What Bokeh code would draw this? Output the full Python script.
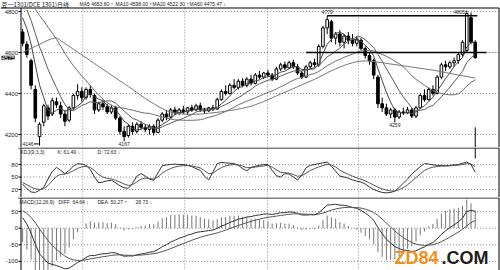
import numpy as np
from bokeh.plotting import figure
from bokeh.layouts import column
from bokeh.models import ColumnDataSource, Range1d, Label
from bokeh.embed import file_html
from bokeh.resources import INLINE

# ---------------- data ----------------
opens = [4700, 4640, 4560, 4420, 4190, 4260, 4330, 4300, 4360, 4340,
         4300, 4270, 4330, 4390, 4410, 4380, 4420, 4390, 4320, 4350,
         4335, 4310, 4330, 4280, 4215, 4195, 4240, 4215, 4250, 4235,
         4225, 4240, 4210, 4270, 4300, 4285, 4320, 4305, 4320, 4310,
         4330, 4320, 4340, 4320, 4315, 4330, 4325, 4370, 4410, 4400,
         4440, 4430, 4460, 4440, 4470, 4450, 4490, 4480, 4500, 4490,
         4470, 4520, 4540, 4525, 4550, 4530, 4500, 4480, 4530, 4550,
         4540, 4630, 4720, 4750, 4670, 4690, 4650, 4680, 4660, 4645,
         4660, 4620, 4585, 4560, 4480, 4350, 4330, 4300, 4320, 4285,
         4310, 4305, 4320, 4290, 4330, 4390, 4370, 4420, 4400, 4480,
         4540, 4530, 4550, 4560, 4590, 4610, 4770, 4650]
highs = [4715, 4655, 4570, 4440, 4260, 4350, 4345, 4380, 4380, 4360,
         4320, 4340, 4400, 4445, 4430, 4430, 4440, 4400, 4360, 4370,
         4350, 4345, 4340, 4290, 4240, 4250, 4260, 4260, 4265, 4250,
         4250, 4250, 4280, 4310, 4320, 4330, 4335, 4330, 4340, 4335,
         4345, 4350, 4355, 4330, 4335, 4345, 4380, 4420, 4440, 4450,
         4470, 4470, 4475, 4480, 4490, 4500, 4510, 4505, 4515, 4500,
         4530, 4550, 4555, 4560, 4565, 4545, 4510, 4540, 4560, 4570,
         4640, 4730, 4779, 4760, 4700, 4710, 4690, 4700, 4690, 4680,
         4670, 4630, 4600, 4570, 4490, 4380, 4350, 4330, 4330, 4320,
         4330, 4335, 4330, 4340, 4400, 4420, 4430, 4440, 4490, 4550,
         4560, 4560, 4575, 4600, 4660, 4805, 4795, 4660]
lows = [4630, 4575, 4420, 4260, 4146, 4240, 4270, 4290, 4330, 4280,
        4240, 4260, 4320, 4370, 4360, 4370, 4380, 4300, 4310, 4320,
        4300, 4300, 4270, 4200, 4167, 4185, 4200, 4205, 4225, 4210,
        4200, 4195, 4205, 4260, 4270, 4280, 4295, 4295, 4300, 4295,
        4310, 4315, 4310, 4300, 4310, 4315, 4320, 4365, 4390, 4395,
        4420, 4420, 4430, 4430, 4440, 4445, 4470, 4470, 4480, 4460,
        4465, 4510, 4515, 4520, 4520, 4490, 4470, 4475, 4520, 4530,
        4530, 4620, 4690, 4650, 4640, 4630, 4620, 4640, 4630, 4630,
        4610, 4570, 4540, 4470, 4330, 4310, 4290, 4280, 4259, 4275,
        4295, 4300, 4280, 4280, 4325, 4360, 4365, 4390, 4395, 4470,
        4510, 4520, 4530, 4545, 4580, 4600, 4640, 4570]
closes = [4645, 4590, 4440, 4280, 4250, 4340, 4290, 4365, 4345, 4300,
          4265, 4330, 4390, 4410, 4380, 4420, 4395, 4320, 4350, 4335,
          4310, 4330, 4280, 4215, 4190, 4240, 4215, 4250, 4235, 4225,
          4240, 4210, 4270, 4300, 4285, 4320, 4305, 4320, 4310, 4330,
          4320, 4340, 4320, 4315, 4330, 4325, 4370, 4410, 4400, 4440,
          4430, 4460, 4440, 4470, 4450, 4490, 4480, 4500, 4490, 4470,
          4520, 4540, 4525, 4550, 4530, 4500, 4480, 4530, 4550, 4540,
          4630, 4720, 4760, 4670, 4690, 4650, 4680, 4660, 4645, 4665,
          4620, 4585, 4560, 4490, 4350, 4330, 4300, 4320, 4285, 4310,
          4305, 4320, 4290, 4330, 4390, 4370, 4420, 4400, 4480, 4540,
          4530, 4550, 4560, 4590, 4650, 4790, 4650, 4575]
# closes before the first visible bar (for the moving averages)
prior_closes = [4760, 4790, 4820, 4850, 4880, 4900, 4930, 4950, 4970, 4960,
                4980, 4950, 4920, 4900, 4870, 4850, 4820, 4790, 4740]
ma60 = [4600, 4610, 4620, 4630, 4640, 4650, 4660, 4668, 4672, 4658,
        4644, 4630, 4616, 4602, 4588, 4574, 4560, 4546, 4532, 4518,
        4504, 4490, 4476, 4462, 4448, 4434, 4420, 4405, 4390, 4376,
        4362, 4350, 4338, 4326, 4316, 4310, 4305, 4302, 4300, 4299,
        4298, 4299, 4300, 4302, 4304, 4306, 4308, 4311, 4314, 4317,
        4320, 4324, 4328, 4333, 4338, 4345, 4353, 4361, 4370, 4379,
        4388, 4397, 4406, 4415, 4424, 4433, 4442, 4451, 4460, 4469,
        4479, 4490, 4501, 4511, 4520, 4529, 4537, 4544, 4550, 4555,
        4558, 4559, 4558, 4556, 4553, 4550, 4547, 4544, 4541, 4538,
        4535, 4532, 4529, 4526, 4523, 4520, 4517, 4514, 4510, 4506,
        4502, 4498, 4494, 4490, 4486, 4483, 4479, 4475]
kdj_k = [33, 22, 14, 13, 18, 25, 45, 63, 73, 66,
         58, 66, 76, 82, 81, 78, 68, 50, 36, 38,
         41, 42, 36, 29, 24, 23, 35, 52, 58, 52,
         45, 42, 60, 77, 79, 80, 81, 80, 80, 78,
         75, 70, 66, 52, 43, 62, 82, 85, 84, 83,
         82, 78, 70, 65, 73, 76, 78, 80, 80, 66,
         53, 50, 58, 57, 50, 43, 55, 72, 78, 80,
         82, 84, 86, 76, 64, 52, 50, 47, 43, 40,
         38, 33, 26, 20, 16, 13, 12, 13, 16, 25,
         35, 45, 57, 66, 75, 82, 81, 79, 78, 78,
         77, 78, 79, 80, 83, 86, 80, 61.49]
d_start = 38.0
macd_init = [4830.0, 4780.0, 58.0]  # EMA12, EMA26, DEA carried in

price_ticks = [4200, 4400, 4600, 4800]
kdj_ticks = [20, 50, 80]
macd_ticks = [-100, -50, 0, 50]
month_breaks = [14.2, 38.3, 57.9, 79.4]

chart_title = "豆一1301(DCE 1301)日线"
ma_labels = ["MA5 4653.80 ↑", "MA10 4598.00 ↑", "MA20 4522.30 ↑", "MA60 4475.47 ↓"]
kdj_labels = ["KDJ(9,3,3)", "K: 61.49 ↓", "D: 72.63 ↓"]
macd_labels = ["MACD(12,26,9)", "DIFF: 64.64 ↓", "DEA: 50.27 ↑", "28.73 ↓"]
support_level = 4600
support_start = 67
watermark = ["ZD84", ".COM"]

# ---------------- derived series ----------------
o = np.array(opens, float); h = np.array(highs, float)
l = np.array(lows, float); c = np.array(closes, float)
n = len(c)
idx = np.arange(n)
allc = np.array(prior_closes + closes, float)
off = len(prior_closes)

def sma(k):
    return np.array([allc[off + i - k + 1: off + i + 1].mean() for i in range(n)])

ma5, ma10, ma20 = sma(5), sma(10), sma(20)

D = []
d = d_start
for kv in kdj_k:
    d = 2 / 3 * d + kv / 3
    D.append(d)

DIFF = []; DEA = []; HIST = []
e12, e26, dea = macd_init
for ci in c:
    e12 = e12 * 11 / 13 + ci * 2 / 13
    e26 = e26 * 25 / 27 + ci * 2 / 27
    diff = e12 - e26
    dea = dea * 0.8 + diff * 0.2
    DIFF.append(diff); DEA.append(dea); HIST.append(2 * (diff - dea))

# ---------------- layout helpers ----------------
FONT = "Liberation Sans"
S = 478 / 113.0                 # pixels per bar
X0 = -0.5 - 20 / S
X1 = X0 + 500 / S
def xpx(px):
    return X0 + px / S

def panel(height, ybot, ytop, ticks, top_px=0.5, sep_from=18):
    p = figure(width=500, height=height, x_range=Range1d(X0, X1), y_range=Range1d(ybot, ytop),
               output_backend="svg", toolbar_location=None,
               x_axis_location=None, y_axis_location=None,
               min_border_left=0, min_border_right=0, min_border_top=0, min_border_bottom=0)
    p.outline_line_color = None
    p.background_fill_color = "white"
    p.border_fill_color = "white"
    p.xgrid.visible = False
    p.ygrid.visible = False
    def ypx(py):
        return ytop - py * (ytop - ybot) / height
    ytop_line = ypx(top_px)
    # dotted grid
    p.segment(x0=[xpx(20.5)] * len(ticks), y0=ticks, x1=[xpx(498)] * len(ticks), y1=ticks,
              line_color="#8a8a8a", line_dash="1 2", line_width=1)
    p.segment(x0=month_breaks, y0=[ybot] * len(month_breaks), x1=month_breaks,
              y1=[ytop_line] * len(month_breaks), line_color="#8a8a8a", line_dash="1 2", line_width=1)
    # frame lines: left axis, right border, top separator
    p.segment(x0=[xpx(20.5), xpx(498.5), xpx(sep_from)], y0=[ybot, ybot, ytop_line],
              x1=[xpx(20.5), xpx(498.5), xpx(498.5)], y1=[ytop_line, ytop_line, ytop_line],
              line_color="black", line_width=1)
    # ticks and tick labels
    p.segment(x0=[xpx(18)] * len(ticks), y0=ticks, x1=[xpx(20.5)] * len(ticks), y1=ticks,
              line_color="black", line_width=1)
    for t in ticks:
        p.add_layout(Label(x=xpx(17.5), y=t, text=str(t), text_align="right",
                           text_baseline="middle", text_font=FONT, text_font_size="6px",
                           text_color="#222"))
    return p, ypx

def lab(p, x, y, text, size="5px", color="#222", font=FONT, align="left",
        baseline="middle", **kw):
    p.add_layout(Label(x=x, y=y, text=text, text_font=font, text_font_size=size,
                       text_color=color, text_align=align, text_baseline=baseline, **kw))

# ---------------- price panel ----------------
P1_TOP = 4800 + 11 / 0.205
P1_BOT = 4800 - 136 / 0.205
p1, y1px = panel(147, P1_BOT, P1_TOP, price_ticks, top_px=7.5, sep_from=0)
up = c >= o
src = ColumnDataSource(dict(x=idx, o=o, h=h, l=l, c=c,
                            top=np.maximum(o, c), bot=np.minimum(o, c),
                            fill=np.where(up, "white", "black")))
p1.segment(x0="x", y0="l", x1="x", y1="h", source=src, line_color="black", line_width=1)
p1.vbar(x="x", top="top", bottom="bot", width=0.62, source=src,
        fill_color="fill", line_color="black", line_width=1)
ma_top = y1px(7.5)
for ser, col in ((ma5, "#444"), (ma10, "#5a5a5a"), (ma20, "#6e6e6e"), (np.array(ma60, float), "#777")):
    ser = np.where(ser > ma_top, np.nan, ser)
    p1.line(idx, ser, line_color=col, line_width=1)

# drawn levels
hi_idx = int(np.argmax(h[:90]))
top_idx = int(np.argmax(h))
p1.segment(x0=[hi_idx], y0=[h[hi_idx]], x1=[n - 0.5], y1=[h[hi_idx]], line_color="black", line_width=1.6)
p1.segment(x0=[support_start], y0=[support_level], x1=[xpx(486)], y1=[support_level],
           line_color="black", line_width=1.6)
p1.segment(x0=[xpx(486)], y0=[support_level], x1=[xpx(497)], y1=[support_level],
           line_color="#999", line_dash="1 1", line_width=1)
p1.segment(x0=[n - 1], y0=[4235], x1=[n - 1], y1=[P1_BOT], line_color="black", line_width=1)

# extreme labels
lo1 = int(np.argmin(l[:10])); lo2 = int(np.argmin(l[10:40])) + 10; lo3 = int(np.argmin(l[80:100])) + 80
lab(p1, lo1 - 1.4, l[lo1] + 8, f"{int(l[lo1])}", align="right")
p1.segment(x0=[lo1 - 1.3], y0=[l[lo1] + 8], x1=[lo1 - 0.2], y1=[l[lo1] + 8], line_color="black", line_width=1)
lab(p1, lo2, l[lo2] - 5, f"{int(l[lo2])}", align="center", baseline="top")
lab(p1, lo3, l[lo3] - 5, f"{int(l[lo3])}", align="center", baseline="top")
lab(p1, hi_idx, h[hi_idx] + 8, f"{int(h[hi_idx])}", align="center", baseline="bottom")
lab(p1, top_idx - 0.4, h[top_idx] - 8, f"{int(h[top_idx])}", align="right")

# title strip
lab(p1, xpx(1), y1px(3.5), chart_title, size="6px", font="Noto Sans CJK SC", color="#111")
for xs, t in zip([79, 115, 152, 189], ma_labels):
    lab(p1, xpx(xs), y1px(3.6), t)
# last price box
lab(p1, xpx(1), c[-1], f"{int(c[-1])}", size="6px", color="white",
    background_fill_color="black")

# ---------------- KDJ panel ----------------
p2, y2px = panel(50, 0.8, 120.8, kdj_ticks)
p2.line(idx, kdj_k, line_color="#333", line_width=1)
p2.line(idx, D, line_color="#555", line_width=1)
p2.segment(x0=[n - 1], y0=[y2px(0.5)], x1=[n - 1], y1=[95], line_color="black", line_width=1)
for xs, t in zip([20, 57, 97], kdj_labels):
    lab(p2, xpx(xs), y2px(4.5), t)

# ---------------- MACD panel ----------------
p3, y3px = panel(73, -127.6, 92.6, macd_ticks)
p3.segment(x0=idx, y0=np.zeros(n), x1=idx, y1=HIST, line_color="#777", line_width=1)
p3.line(idx, DIFF, line_color="#333", line_width=1)
p3.line(idx, DEA, line_color="#555", line_width=1)
for xs, t in zip([19, 58, 97, 135], macd_labels):
    lab(p3, xpx(xs), y3px(4), t)
lab(p3, xpx(394), y3px(60), watermark[0], size="18px", color="#F39019",
    baseline="alphabetic", text_font_style="bold")
lab(p3, xpx(441), y3px(60), watermark[1], size="18px", color="#1e1e1e",
    baseline="alphabetic", text_font_style="bold")

layout = column(p1, p2, p3, spacing=0)
open("out.html", "w").write(file_html(layout, INLINE))
